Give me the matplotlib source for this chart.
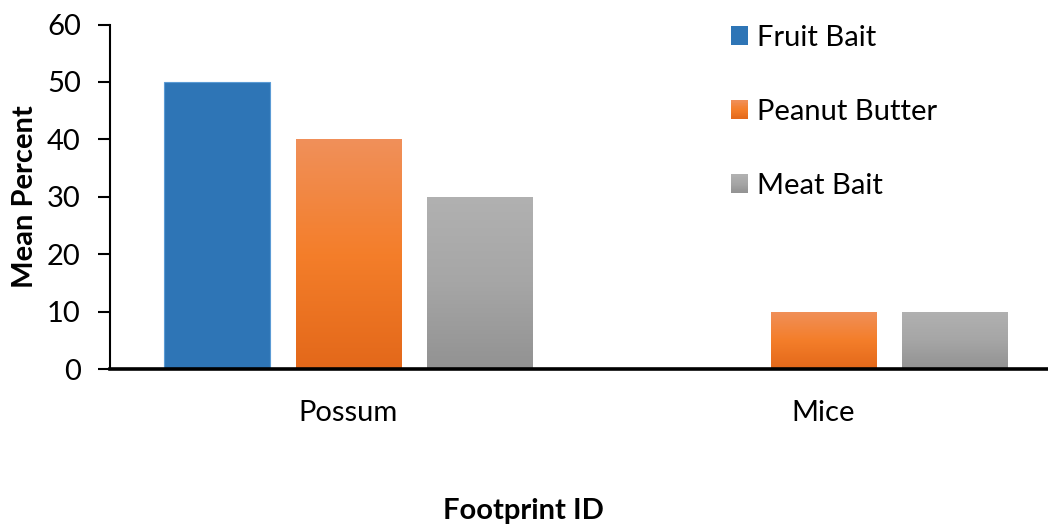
import matplotlib.pyplot as plt
import numpy as np
from matplotlib.colors import LinearSegmentedColormap
from matplotlib.legend_handler import HandlerPatch
from matplotlib.patches import Rectangle

plt.rcParams["font.family"] = ["Lato", "DejaVu Sans"]

categories = ["Possum", "Mice"]
series_names = ["Fruit Bait", "Peanut Butter", "Meat Bait"]
fruit_bait = [50, 0]
peanut_butter = [40, 10]
meat_bait = [30, 10]
y_ticks = [0, 10, 20, 30, 40, 50, 60]

# fills, bottom -> middle -> top of each bar
fills = [
    ["#2E75B6", "#2E75B6", "#2E75B6"],
    ["#E3681A", "#F47E2A", "#F0905A"],
    ["#929292", "#A6A6A6", "#B1B1B1"],
]
cmaps = [LinearSegmentedColormap.from_list(f"g{i}", c) for i, c in enumerate(fills)]


class GradientHandler(HandlerPatch):
    def __init__(self, cmap, **kw):
        super().__init__(**kw)
        self.cmap = cmap

    def create_artists(self, legend, orig_handle, xdescent, ydescent,
                       width, height, fontsize, trans):
        n = 24
        arts = []
        for i in range(n):
            r = Rectangle((-xdescent, -ydescent + height * i / n), width,
                          height / n * 1.1, facecolor=self.cmap((i + 0.5) / n),
                          edgecolor="none", transform=trans)
            arts.append(r)
        return arts


fig = plt.figure(figsize=(10.48, 5.25), dpi=100)
ax = fig.add_axes([110 / 1048, (525 - 369) / 525, 938 / 1048, 344.5 / 525])

x = np.arange(len(categories))
width = 0.223
step = 0.276
series = [fruit_bait, peanut_butter, meat_bait]

grad = np.linspace(0, 1, 256).reshape(-1, 1)
for k, (vals, cmap) in enumerate(zip(series, cmaps)):
    bars = ax.bar(x + (k - 1) * step, vals, width, color=cmap(0.5),
                  edgecolor="none", zorder=2)
    if k == 0:
        for b in bars:
            b.set_edgecolor("#5B9BD5")
            b.set_linewidth(0.8)
        continue
    for b in bars:
        if b.get_height() <= 0:
            continue
        x0, y0 = b.get_x(), b.get_y()
        im = ax.imshow(grad, cmap=cmap, origin="lower", aspect="auto",
                       extent=[x0, x0 + b.get_width(), y0, y0 + b.get_height()],
                       interpolation="bilinear", zorder=3)
        im.set_clip_path(b)

ax.set_xlim(-0.502, 1.4726)
ax.set_ylim(0, 60)

ax.set_yticks(y_ticks)
ax.set_xticks(x)
ax.set_xticklabels(categories)
ax.tick_params(axis="y", labelsize=21, length=9, width=1.5, pad=12, colors="black")
ax.tick_params(axis="x", labelsize=21, length=0, pad=22)

for s in ["top", "right"]:
    ax.spines[s].set_visible(False)
ax.spines["left"].set_linewidth(1.5)
ax.spines["bottom"].set_linewidth(2.6)
ax.spines["bottom"].set_zorder(5)

ax.set_ylabel("Mean Percent", fontsize=21, fontweight="bold", va="center")
ax.yaxis.set_label_coords(-0.0906, 0.5)
ax.set_xlabel("Footprint ID", fontsize=21, fontweight="bold", va="center")
ax.xaxis.set_label_coords((523 - 110) / 938, (369 - 511) / 344.5)

handles = [Rectangle((0, 0), 1, 1) for _ in series_names]
leg = ax.legend(handles, series_names, loc="upper left",
                bbox_to_anchor=(731 / 1048, 1 - 25 / 525),
                bbox_transform=fig.transFigure, frameon=False, fontsize=21,
                handlelength=0.59, handleheight=0.59, handletextpad=0.3,
                labelspacing=1.64, borderpad=0, borderaxespad=0,
                handler_map={h: GradientHandler(c) for h, c in zip(handles, cmaps)})

fig.savefig("out.png", dpi=100)
